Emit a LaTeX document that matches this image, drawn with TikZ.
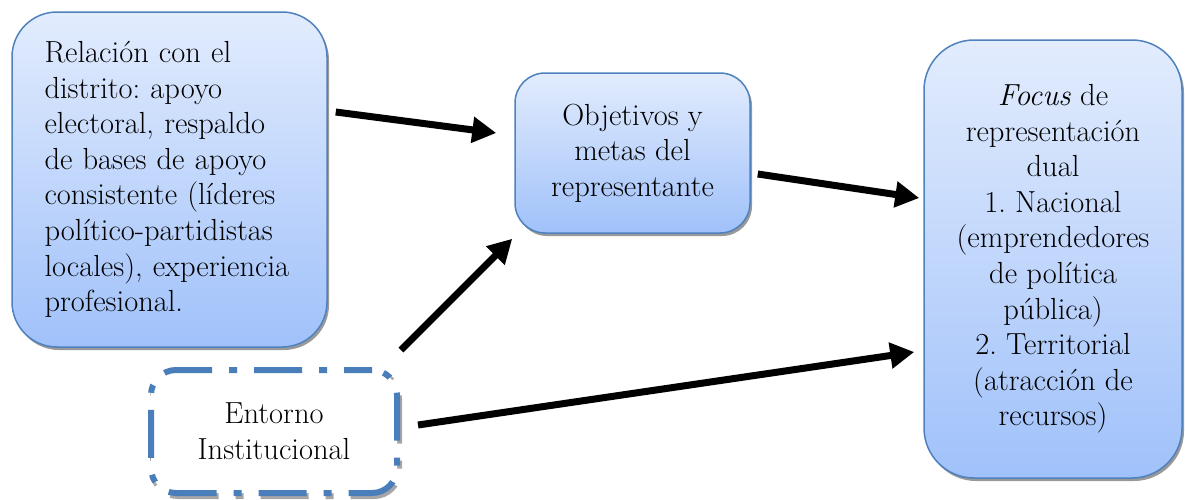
\documentclass[tikz,border=0pt]{standalone}
\usepackage{fontspec}
\usetikzlibrary{arrows.meta,shadows,calc}
\definecolor{boxedge}{RGB}{79,129,189}
\definecolor{boxtop}{RGB}{226,236,253}
\definecolor{boxbottom}{RGB}{160,193,250}
\definecolor{dashedge}{RGB}{74,126,187}
\frenchspacing
\tikzset{
  bluebox/.style={draw=boxedge, line width=1.5pt, top color=boxtop, bottom color=boxbottom,
    drop shadow={shadow xshift=2pt, shadow yshift=-3pt, fill=black!40, opacity=1},
    font=\fontsize{30.5}{35.6}\selectfont, align=center, inner sep=0pt},
  envbox/.style={draw=dashedge, line width=6pt, fill=white, rounded corners=25pt,
    dash pattern=on 48pt off 17pt on 8pt off 17pt, dash phase=20pt,
    general shadow={shadow xshift=2pt, shadow yshift=-3pt, draw=black!35, fill=none},
    font=\fontsize{30.5}{35.6}\selectfont, align=center, inner sep=0pt},
  flow/.style={line width=7pt, -{Triangle[length=24pt,width=25pt]}}
}
\begin{document}
\begin{tikzpicture}[x=1pt,y=-1pt]
  \useasboundingbox (0,0) rectangle (1185,499);

  % district relation
  \node[bluebox, rounded corners=45pt, align=left, text width=250pt,
        inner xsep=32.5pt, minimum height=335pt] (district) at (169.5,179.5)
    {Relación con el\\ distrito: apoyo\\ electoral, respaldo\\ de bases de apoyo\\
     consistente (líderes\\ político-partidistas\\ locales), experiencia\\ profesional.};

  % goals of the representative
  \node[bluebox, rounded corners=30pt, minimum width=235pt, minimum height=160pt]
    (goals) at (632.5,153) {Objetivos y\\ metas del\\ representante};

  % focus of representation
  \node[bluebox, rounded corners=50pt, minimum width=258pt, minimum height=438pt]
    (focus) at (1053,259)
    {\textit{Focus} de\\ representación\\ dual\\ 1. Nacional\\ (emprendedores\\
     de política\\ pública)\\ 2. Territorial\\ (atracción de\\ recursos)};

  % institutional environment
  \node[envbox, minimum width=246pt, minimum height=123pt] (env) at (274,431.5)
    {Entorno\\ Institucional};

  % influences
  \draw[flow] ($(district.east)+(8,-67.5)$) -- ($(goals.west)+(-18,-20)$);
  \draw[flow] ($(env.north east)+(1,-17)$) -- ($(goals.south west)+(-2,5)$);
  \draw[flow] ($(goals.east)+(7,21)$) -- ($(focus.west)+(-4,-61)$);
  \draw[flow] ($(env.east)+(18,-6.5)$) -- ($(focus.west)+(-9,93)$);
\end{tikzpicture}
\end{document}
